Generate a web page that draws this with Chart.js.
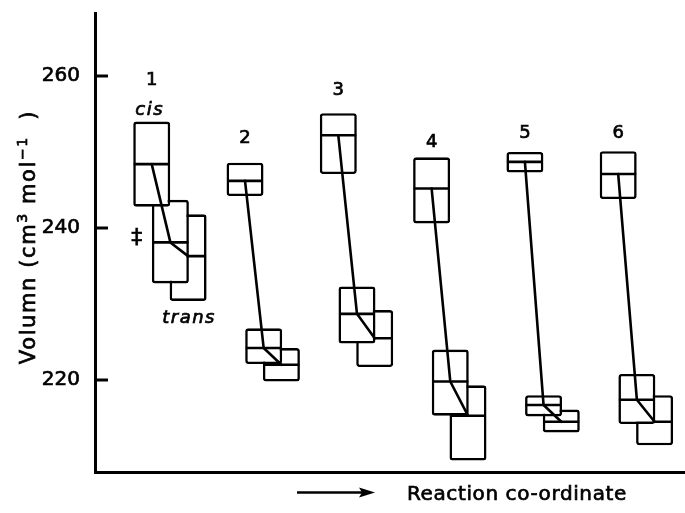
<!DOCTYPE html>
<html>
<head>
<meta charset="utf-8">
<script src="https://cdn.jsdelivr.net/npm/chart.js@4.4.1/dist/chart.umd.min.js"></script>
<style>
  html, body { margin: 0; padding: 0; background: #fff; }
  #wrap { width: 685px; height: 513px; }
</style>
</head>
<body>
<div id="wrap"><canvas id="c" width="685" height="513"></canvas></div>
<script>
// ---- data (cm3 mol-1) ----
const compounds = ['1', '2', '3', '4', '5', '6'];
const states = ['cis', '\u2021', 'trans'];

const cisLow    = [242.8, 244.2, 247.1, 240.6, 247.3, 243.8];
const cisMean   = [248.4, 246.2, 252.2, 245.2, 248.7, 247.1];
const cisHigh   = [254.0, 248.6, 255.1, 249.3, 250.0, 250.1];

const tsLow     = [232.7, 222.1, 224.8, 215.3, 215.2, 214.2];
const tsMean    = [238.1, 224.2, 228.7, 219.8, 216.7, 217.4];
const tsHigh    = [243.7, 226.8, 232.3, 224.0, 218.0, 220.8];

const transLow  = [230.4, 219.8, 221.7, 209.4, 213.1, 211.4];
const transMean = [236.3, 222.0, 225.5, 215.3, 214.5, 214.5];
const transHigh = [241.8, 224.2, 229.2, 219.3, 216.1, 218.0];

const yTicks = [220, 240, 260];
const xTitle = 'Reaction co-ordinate';

// ---- layout helpers ----
const FONT = '"DejaVu Sans", sans-serif';
const pos = compounds.map((c, i) => i + 1);       // place of each compound along the reaction coordinate
const stateOffset = [0, 0.2, 0.39];               // cis, transition state, trans
const numberLabelY = [258.8, 251.2, 257.5, 250.7, 251.9, 251.9];
const LW = 2.6;

function boxData(lo, hi, k) { return pos.map((p, i) => ({ x: p + stateOffset[k], y: [lo[i], hi[i]] })); }
function meanData(m, k) { return pos.map((p, i) => ({ x: p + stateOffset[k], y: m[i] })); }

const barStyle = {
  type: 'bar', backgroundColor: '#fff', borderColor: '#000', borderWidth: LW,
  borderSkipped: false, borderRadius: 3, barThickness: 37, grouped: false, inflateAmount: 0
};
const meanStyle = {
  type: 'scatter', showLine: false, pointStyle: 'line', pointRadius: 18, pointHoverRadius: 18,
  borderColor: '#000', backgroundColor: '#000', pointBorderWidth: LW, borderWidth: LW
};

const datasets = [];
// connecting lines (on top)
pos.forEach((p, i) => {
  datasets.push({
    type: 'line', order: 0, borderColor: '#000', borderWidth: LW, pointRadius: 0, tension: 0, fill: false,
    borderCapStyle: 'round', borderJoinStyle: 'round',
    data: [
      { x: p + stateOffset[0], y: cisMean[i] },
      { x: p + stateOffset[1], y: tsMean[i] },
      { x: p + stateOffset[2], y: transMean[i] }
    ]
  });
});
datasets.push(Object.assign({}, meanStyle, { order: 1, data: meanData(cisMean, 0) }));
datasets.push(Object.assign({}, barStyle,  { order: 2, data: boxData(cisLow, cisHigh, 0) }));
datasets.push(Object.assign({}, meanStyle, { order: 3, data: meanData(tsMean, 1) }));
datasets.push(Object.assign({}, barStyle,  { order: 4, data: boxData(tsLow, tsHigh, 1) }));
datasets.push(Object.assign({}, meanStyle, { order: 5, data: meanData(transMean, 2) }));
datasets.push(Object.assign({}, barStyle,  { order: 6, data: boxData(transLow, transHigh, 2) }));

function spaced(ctx, px) { if ('letterSpacing' in ctx) ctx.letterSpacing = px + 'px'; }
function ink(ctx, t, x, y) { ctx.fillText(t, x, y); ctx.strokeText(t, x, y); }

const annotations = {
  id: 'annotations',
  afterDraw(chart) {
    const { ctx, chartArea: a, scales: { x, y } } = chart;
    ctx.save();
    ctx.fillStyle = '#000';
    ctx.strokeStyle = '#000';
    ctx.lineWidth = 3;

    // inward tick marks on the y axis
    yTicks.forEach(v => {
      const py = Math.round(y.getPixelForValue(v));
      ctx.beginPath(); ctx.moveTo(a.left, py); ctx.lineTo(a.left + 13, py); ctx.stroke();
    });

    ctx.lineWidth = 0.7;
    // compound numbers
    ctx.font = '18px ' + FONT;
    ctx.textAlign = 'center';
    ctx.textBaseline = 'alphabetic';
    compounds.forEach((c, i) => {
      ink(ctx, c, x.getPixelForValue(pos[i]), y.getPixelForValue(numberLabelY[i]));
    });

    // state labels for compound 1
    ctx.font = 'italic 18px ' + FONT;
    spaced(ctx, 1.5);
    ink(ctx, states[0], x.getPixelForValue(pos[0]) - 2, y.getPixelForValue(cisHigh[0] + 0.9));
    ink(ctx, states[2], x.getPixelForValue(pos[0] + stateOffset[2]) + 1, y.getPixelForValue(transLow[0] - 2.9));
    spaced(ctx, 0);
    ctx.font = '22px ' + FONT;
    ctx.textBaseline = 'middle';
    ink(ctx, states[1], x.getPixelForValue(pos[0]) - 15, y.getPixelForValue(tsMean[0] + 0.5));

    // x title with arrow
    const ay = 492.5;
    ctx.lineWidth = 2.5;
    ctx.beginPath(); ctx.moveTo(297, ay); ctx.lineTo(364, ay); ctx.stroke();
    ctx.beginPath(); ctx.moveTo(375, ay); ctx.lineTo(359, ay - 5); ctx.lineTo(362, ay); ctx.lineTo(359, ay + 5); ctx.closePath(); ctx.fill();
    ctx.lineWidth = 0.7;
    ctx.font = '20px ' + FONT;
    ctx.textAlign = 'left';
    ctx.textBaseline = 'alphabetic';
    spaced(ctx, 0.6);
    ink(ctx, xTitle, 407, 500);

    // y title (rotated, with superscripts)
    const segs = [
      { t: 'Volumn (cm', s: false }, { t: '3', s: true }, { t: ' mol', s: false },
      { t: '\u22121', s: true }, { t: '  )', s: false }
    ];
    spaced(ctx, 1.6);
    let total = 0;
    segs.forEach(sg => { ctx.font = (sg.s ? '14px ' : '21px ') + FONT; sg.w = ctx.measureText(sg.t).width; total += sg.w; });
    ctx.translate(35, 237);
    ctx.rotate(-Math.PI / 2);
    let u = -total / 2;
    segs.forEach(sg => {
      ctx.font = (sg.s ? '14px ' : '21px ') + FONT;
      ink(ctx, sg.t, u, sg.s ? -8 : 0);
      u += sg.w;
    });
    ctx.restore();
  }
};

new Chart(document.getElementById('c'), {
  type: 'bar',
  data: { datasets },
  options: {
    responsive: false,
    animation: false,
    devicePixelRatio: 1,
    events: [],
    layout: { autoPadding: false, padding: { top: 13, right: 0, bottom: 41, left: 0 } },
    plugins: { legend: { display: false }, tooltip: { enabled: false }, title: { display: false } },
    scales: {
      x: {
        type: 'linear', min: 0.392, max: 6.716, offset: false,
        grid: { display: false, drawTicks: false }, ticks: { display: false },
        border: { display: true, color: '#000', width: 3 },
        afterFit(s) { s.height = 0; s.paddingLeft = 0; s.paddingRight = 0; }
      },
      y: {
        type: 'linear', min: 207.89, max: 268.29,
        grid: { display: false, drawTicks: false },
        border: { display: true, color: '#000', width: 3 },
        ticks: { color: '#000', font: { family: FONT, size: 20 }, padding: 15,
                 textStrokeColor: '#000', textStrokeWidth: 0.7 },
        afterBuildTicks(s) { s.ticks = yTicks.map(v => ({ value: v })); },
        afterFit(s) { s.width = 95; s.paddingTop = 0; s.paddingBottom = 0; }
      }
    }
  },
  plugins: [annotations]
});
</script>
</body>
</html>
